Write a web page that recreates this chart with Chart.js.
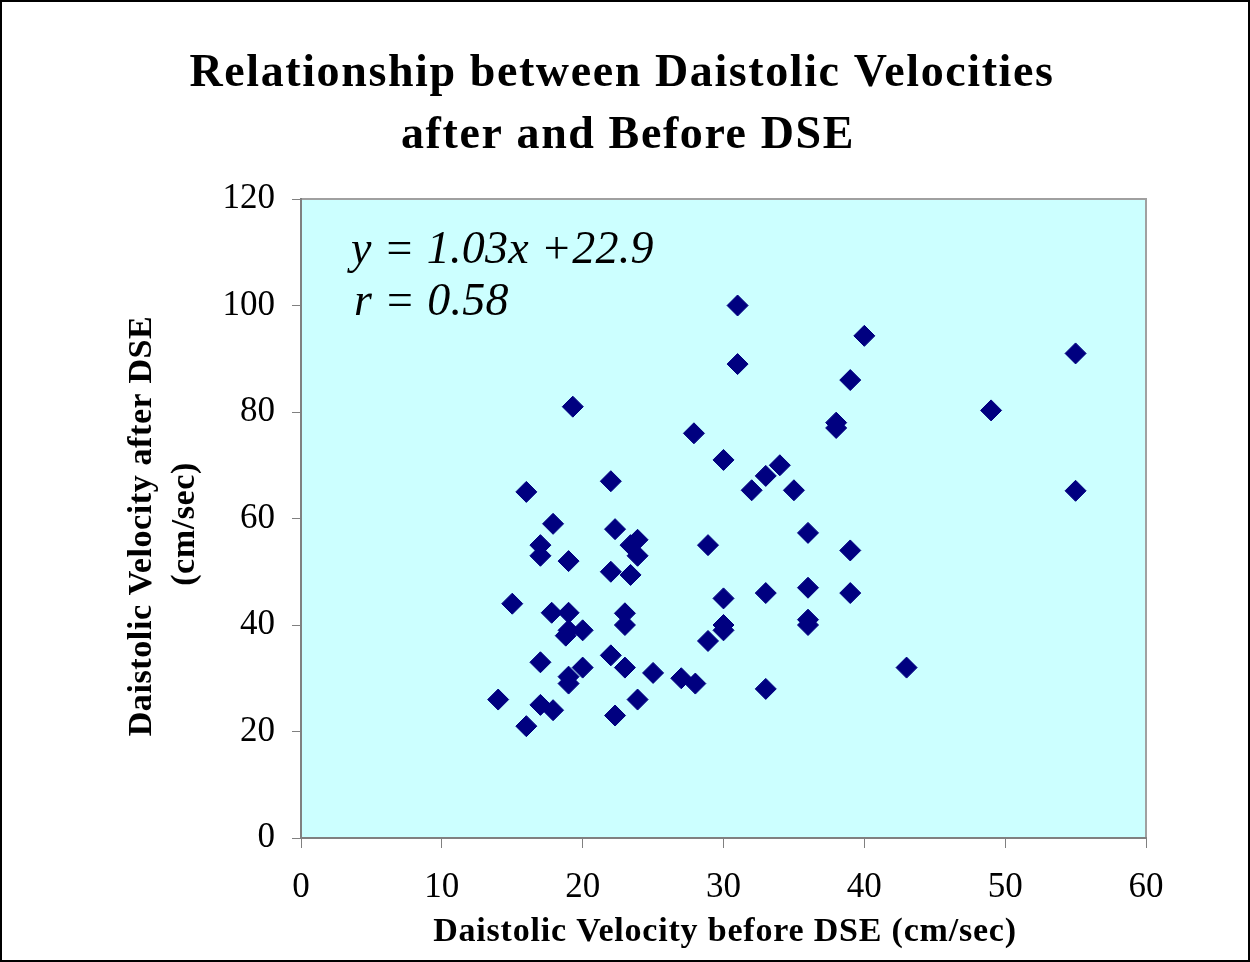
<!DOCTYPE html>
<html lang="en">
<head>
    <meta charset="UTF-8">
    <title>Daistolic Velocities after and Before DSE</title>
    <script src="https://cdn.jsdelivr.net/npm/chart.js"></script>
    <style>
        body {
            margin: 0;
            background: #fff;
        }
        .frame {
            width: 1250px;
            height: 962px;
            box-sizing: border-box;
            border: 2px solid #000;
            background: #fff;
        }
        canvas {
            display: block;
        }
    </style>
</head>
<body>
    <div class="frame">
        <canvas id="dseChart" width="1246" height="958"></canvas>
    </div>

    <script>
        // Velocity before DSE (cm/sec)
        const velocityBefore = [
            14, 15, 16, 16, 17, 17, 17, 17, 17.9, 17.8,
            17.9, 19, 19, 19, 18.8, 19, 19, 19.3, 20, 20,
            22, 22, 22, 22.3, 22.3, 23, 23, 23, 23.4, 23.4,
            23.9, 23.9, 23.9, 25, 27, 28, 27.9, 28.9, 28.9, 30,
            30, 30, 30, 31, 31, 32, 33, 33, 33, 34,
            35, 36, 36, 36, 36, 38, 38, 39, 39, 39,
            40, 43, 49, 55, 55
        ];
        // Velocity after DSE (cm/sec)
        const velocityAfter = [
            26, 44, 21, 65, 55, 53, 33, 25, 59, 42.3,
            24, 52, 42.3, 39, 38, 30.3, 29, 81, 39, 32,
            67, 50, 34.3, 58, 23, 42.2, 40, 32, 49.4, 55,
            56, 53, 26, 31, 30, 29, 76, 55, 37, 71,
            45, 40, 39, 100, 89, 65.3, 68, 46, 28, 70,
            65.3, 57.3, 47, 41, 40, 78, 77, 86, 54, 46,
            94.3, 32, 80.3, 91, 65.2
        ];
        const yTicks = [0, 20, 40, 60, 80, 100, 120];
        const xTicks = [0, 10, 20, 30, 40, 50, 60];

        const titleLines = ['Relationship between Daistolic Velocities', 'after and Before DSE'];
        const equationLines = ['y = 1.03x +22.9', 'r = 0.58'];
        const yTitleLines = ['Daistolic Velocity after DSE', '(cm/sec)'];
        const xTitle = 'Daistolic Velocity before DSE (cm/sec)';

        const SERIF = '"Liberation Serif", "Times New Roman", serif';
        Chart.defaults.font.family = SERIF;

        const points = velocityBefore.map((v, i) => ({ x: v, y: velocityAfter[i] }));

        // plot background, frame and the free texts
        const decorPlugin = {
            id: 'decor',
            beforeDraw(chart) {
                const { ctx, chartArea: a } = chart;
                ctx.save();
                ctx.fillStyle = '#ccffff';
                ctx.fillRect(a.left, a.top, a.right - a.left, a.bottom - a.top);
                ctx.strokeStyle = '#a0a0a0';
                ctx.lineWidth = 2;
                ctx.beginPath();
                ctx.moveTo(a.left, a.top);
                ctx.lineTo(a.right, a.top);
                ctx.lineTo(a.right, a.bottom);
                ctx.stroke();
                ctx.restore();
            },
            afterDraw(chart) {
                const ctx = chart.ctx;
                ctx.save();
                ctx.fillStyle = '#000';
                ctx.textAlign = 'center';
                ctx.textBaseline = 'alphabetic';
                ctx.font = 'bold 46px ' + SERIF;
                ctx.letterSpacing = '1.6px';
                ctx.fillText(titleLines[0], 620, 84);
                ctx.fillText(titleLines[1], 626, 146);

                ctx.letterSpacing = '0.3px';
                ctx.textAlign = 'left';
                ctx.font = 'italic 46px ' + SERIF;
                ctx.fillText(equationLines[0], 349, 261);
                ctx.fillText(equationLines[1], 352, 313);

                ctx.letterSpacing = '0.8px';
                ctx.font = 'bold 34px ' + SERIF;
                ctx.textAlign = 'center';
                ctx.fillText(xTitle, 723, 939);

                ctx.letterSpacing = '0.6px';
                ctx.textBaseline = 'middle';
                ctx.translate(140, 524);
                ctx.rotate(-Math.PI / 2);
                ctx.fillText(yTitleLines[0], 0, 0);
                ctx.fillText(yTitleLines[1], 2, 43);
                ctx.restore();
            }
        };

        new Chart(document.getElementById('dseChart'), {
            type: 'scatter',
            data: {
                datasets: [{
                    data: points,
                    pointStyle: 'rectRot',
                    radius: 10.5,
                    hoverRadius: 10.5,
                    borderWidth: 1,
                    backgroundColor: '#000080',
                    borderColor: '#000080'
                }]
            },
            options: {
                responsive: false,
                animation: false,
                layout: { padding: { top: 197, right: 102, bottom: 0, left: 0 } },
                plugins: {
                    legend: { display: false },
                    tooltip: { enabled: false },
                    title: { display: false }
                },
                scales: {
                    x: {
                        type: 'linear',
                        min: xTicks[0],
                        max: xTicks[xTicks.length - 1],
                        afterBuildTicks: s => { s.ticks = xTicks.map(v => ({ value: v })); },
                        afterFit: s => { s.height = 122; },
                        ticks: { color: '#000', font: { size: 35, lineHeight: 1 }, padding: 22, maxRotation: 0 },
                        grid: { drawOnChartArea: false, tickLength: 10, color: '#808080' },
                        border: { color: '#808080', width: 2 }
                    },
                    y: {
                        min: yTicks[0],
                        max: yTicks[yTicks.length - 1],
                        afterBuildTicks: s => { s.ticks = yTicks.map(v => ({ value: v })); },
                        afterFit: s => { s.width = 299; },
                        ticks: { color: '#000', font: { size: 35, lineHeight: 1 }, padding: 17 },
                        grid: { drawOnChartArea: false, tickLength: 9, color: '#808080' },
                        border: { color: '#808080', width: 2 }
                    }
                }
            },
            plugins: [decorPlugin]
        });
    </script>
</body>
</html>
